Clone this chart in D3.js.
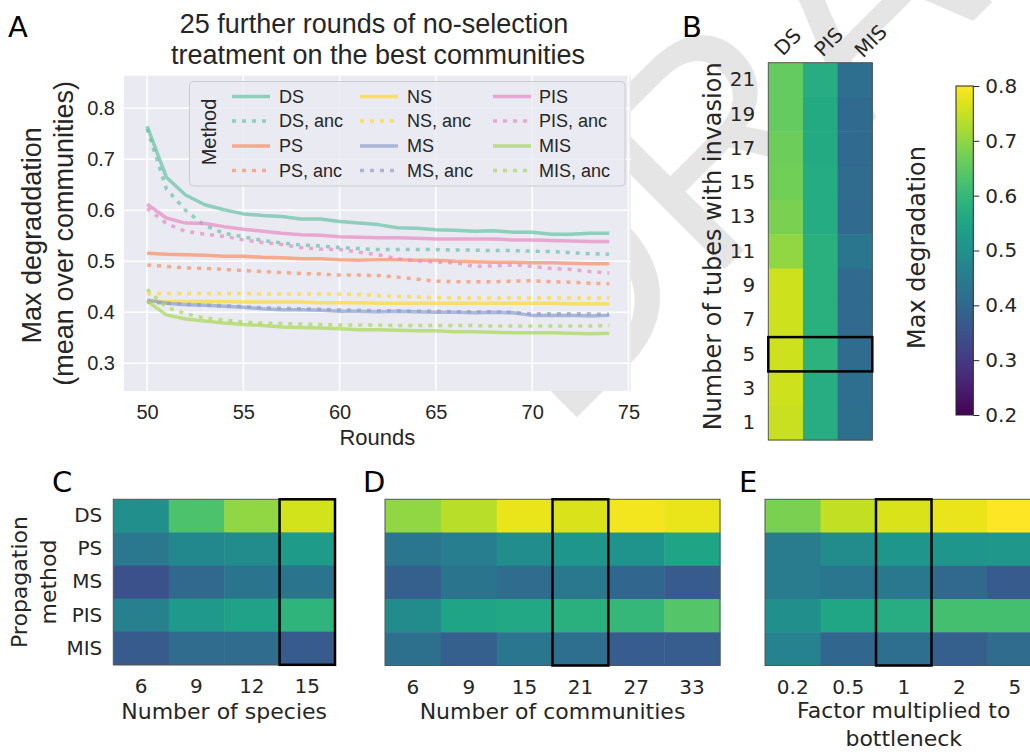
<!DOCTYPE html>
<html>
<head>
<meta charset="utf-8">
<script src="https://cdn.jsdelivr.net/npm/d3@7"></script>
<style>
  body { margin: 0; background: #ffffff; }
  svg { display: block; }
</style>
</head>
<body>
<div id="chart"></div>
<script>
// Panel A: max degradation over 25 further no-selection rounds
const rounds = d3.range(50, 75);
const ds     = [0.765, 0.665, 0.630, 0.611, 0.601, 0.593, 0.590, 0.588, 0.583, 0.583, 0.578, 0.575, 0.572, 0.566, 0.565, 0.562, 0.561, 0.559, 0.560, 0.557, 0.557, 0.553, 0.553, 0.555, 0.555];
const dsAnc  = [0.760, 0.642, 0.600, 0.570, 0.555, 0.548, 0.541, 0.536, 0.532, 0.530, 0.527, 0.525, 0.523, 0.523, 0.523, 0.523, 0.522, 0.522, 0.521, 0.521, 0.520, 0.519, 0.517, 0.515, 0.514];
const ps     = [0.516, 0.514, 0.513, 0.512, 0.510, 0.510, 0.508, 0.507, 0.505, 0.505, 0.503, 0.502, 0.503, 0.503, 0.502, 0.502, 0.500, 0.499, 0.498, 0.498, 0.497, 0.497, 0.496, 0.495, 0.495];
const psAnc  = [0.493, 0.490, 0.487, 0.486, 0.484, 0.482, 0.480, 0.478, 0.476, 0.475, 0.473, 0.473, 0.472, 0.469, 0.465, 0.461, 0.460, 0.460, 0.460, 0.461, 0.462, 0.460, 0.459, 0.457, 0.456];
const ns     = [0.421, 0.421, 0.421, 0.421, 0.421, 0.420, 0.420, 0.420, 0.420, 0.419, 0.419, 0.419, 0.418, 0.418, 0.418, 0.418, 0.418, 0.418, 0.418, 0.418, 0.418, 0.418, 0.417, 0.417, 0.417];
const nsAnc  = [0.436, 0.437, 0.437, 0.437, 0.437, 0.437, 0.436, 0.436, 0.436, 0.436, 0.436, 0.435, 0.433, 0.431, 0.430, 0.429, 0.428, 0.428, 0.428, 0.428, 0.428, 0.428, 0.428, 0.428, 0.428];
const ms     = [0.424, 0.418, 0.415, 0.414, 0.412, 0.410, 0.407, 0.405, 0.405, 0.404, 0.402, 0.402, 0.401, 0.402, 0.401, 0.400, 0.400, 0.399, 0.400, 0.399, 0.394, 0.394, 0.394, 0.393, 0.394];
const msAnc  = [0.420, 0.418, 0.416, 0.414, 0.413, 0.411, 0.409, 0.408, 0.407, 0.406, 0.405, 0.404, 0.403, 0.403, 0.402, 0.402, 0.401, 0.401, 0.401, 0.400, 0.397, 0.397, 0.397, 0.397, 0.396];
const pis    = [0.612, 0.585, 0.575, 0.574, 0.568, 0.563, 0.559, 0.555, 0.552, 0.551, 0.548, 0.547, 0.546, 0.546, 0.545, 0.544, 0.544, 0.544, 0.544, 0.542, 0.542, 0.541, 0.540, 0.539, 0.539];
const pisAnc = [0.604, 0.574, 0.559, 0.553, 0.549, 0.542, 0.537, 0.533, 0.527, 0.524, 0.523, 0.518, 0.513, 0.505, 0.501, 0.499, 0.497, 0.490, 0.491, 0.493, 0.490, 0.486, 0.484, 0.480, 0.477];
const mis    = [0.422, 0.395, 0.387, 0.383, 0.379, 0.376, 0.374, 0.371, 0.370, 0.369, 0.368, 0.366, 0.366, 0.365, 0.364, 0.364, 0.362, 0.362, 0.361, 0.360, 0.360, 0.360, 0.359, 0.358, 0.359];
const misAnc = [0.445, 0.410, 0.397, 0.389, 0.385, 0.381, 0.379, 0.378, 0.377, 0.376, 0.375, 0.375, 0.375, 0.374, 0.374, 0.374, 0.374, 0.374, 0.373, 0.373, 0.373, 0.373, 0.373, 0.373, 0.374];

// Panel B: number of tubes with invasion (top row first)
const tubes = [21, 19, 17, 15, 13, 11, 9, 7, 5, 3, 1];
const bMethods = ["DS", "PIS", "MIS"];
const bDS  = [0.655, 0.655, 0.665, 0.670, 0.680, 0.700, 0.755, 0.755, 0.755, 0.755, 0.750];
const bPIS = [0.575, 0.565, 0.565, 0.570, 0.570, 0.580, 0.580, 0.580, 0.585, 0.575, 0.575];
const bMIS = [0.415, 0.405, 0.405, 0.410, 0.405, 0.435, 0.405, 0.405, 0.410, 0.415, 0.420];

// Panels C-E: propagation method rows
const methods = ["DS", "PS", "MS", "PIS", "MIS"];

const species = ["6", "9", "12", "15"];
const cDS  = [0.500, 0.630, 0.700, 0.760];
const cPS  = [0.440, 0.480, 0.490, 0.530];
const cMS  = [0.350, 0.400, 0.430, 0.430];
const cPIS = [0.460, 0.525, 0.545, 0.590];
const cMIS = [0.370, 0.410, 0.410, 0.370];

const communities = ["6", "9", "15", "21", "27", "33"];
const dDS  = [0.700, 0.735, 0.780, 0.765, 0.790, 0.780];
const dPS  = [0.435, 0.455, 0.495, 0.515, 0.510, 0.550];
const dMS  = [0.380, 0.430, 0.410, 0.440, 0.395, 0.370];
const dPIS = [0.490, 0.550, 0.560, 0.580, 0.600, 0.640];
const dMIS = [0.420, 0.380, 0.435, 0.415, 0.375, 0.375];

const factors = ["0.2", "0.5", "1", "2", "5"];
const eDS  = [0.680, 0.745, 0.765, 0.780, 0.800];
const ePS  = [0.450, 0.490, 0.515, 0.515, 0.520];
const eMS  = [0.450, 0.435, 0.440, 0.400, 0.370];
const ePIS = [0.500, 0.555, 0.575, 0.620, 0.620];
const eMIS = [0.465, 0.395, 0.415, 0.380, 0.410];

const colorTicks = [0.2, 0.3, 0.4, 0.5, 0.6, 0.7, 0.8];

const W = 1030, H = 752;
const fontA = "'Liberation Sans', Arial, sans-serif";
const fontB = "'DejaVu Sans', sans-serif";
const ink = "#262626";

const svg = d3.select("#chart").append("svg")
  .attr("width", W)
  .attr("height", H)
  .attr("viewBox", [0, 0, W, H]);

svg.append("rect").attr("width", W).attr("height", H).attr("fill", "#ffffff");

// draft watermark sits behind the figure
svg.append("text")
  .text("DRAFT")
  .attr("transform", "translate(560,434) rotate(-45)")
  .attr("font-family", fontA)
  .attr("font-size", 290)
  .attr("fill", "#e5e5e5");

const color = d3.scaleSequential(d3.interpolateViridis).domain([0.2, 0.8]);

// ---------- Panel A ----------
const A = { left: 124, right: 630.7, top: 75.7, bottom: 391 };
const xA = d3.scaleLinear().domain([48.8, 75.12]).range([A.left, A.right]);
const yA = d3.scaleLinear().domain([0.2457, 0.864]).range([A.bottom, A.top]);

const gA = svg.append("g").attr("font-family", fontA);

gA.append("rect")
  .attr("x", A.left).attr("y", A.top)
  .attr("width", A.right - A.left).attr("height", A.bottom - A.top)
  .attr("fill", "#eaeaf2");

const xTicksA = [50, 55, 60, 65, 70, 75];
const yTicksA = [0.3, 0.4, 0.5, 0.6, 0.7, 0.8];

gA.append("g").selectAll("line")
  .data(xTicksA)
  .join("line")
  .attr("x1", d => xA(d)).attr("x2", d => xA(d))
  .attr("y1", A.top).attr("y2", A.bottom)
  .attr("stroke", "#ffffff").attr("stroke-width", 1.5);

gA.append("g").selectAll("line")
  .data(yTicksA)
  .join("line")
  .attr("x1", A.left).attr("x2", A.right)
  .attr("y1", d => yA(d)).attr("y2", d => yA(d))
  .attr("stroke", "#ffffff").attr("stroke-width", 1.5);

gA.append("g")
  .attr("transform", `translate(0,${A.bottom})`)
  .call(d3.axisBottom(xA).tickValues(xTicksA).tickSize(0).tickPadding(14))
  .call(g => g.select(".domain").remove())
  .attr("font-family", fontA)
  .selectAll("text").attr("font-size", 20).attr("fill", ink);

gA.append("g")
  .attr("transform", `translate(${A.left},0)`)
  .call(d3.axisLeft(yA).tickValues(yTicksA).tickFormat(d3.format(".1f")).tickSize(0).tickPadding(9))
  .call(g => g.select(".domain").remove())
  .attr("font-family", fontA)
  .selectAll("text").attr("font-size", 20).attr("fill", ink);

const seriesA = [
  { name: "DS",       values: ds,     color: "#66c2a5", dotted: false },
  { name: "DS, anc",  values: dsAnc,  color: "#66c2a5", dotted: true },
  { name: "PS",       values: ps,     color: "#fc8d62", dotted: false },
  { name: "PS, anc",  values: psAnc,  color: "#fc8d62", dotted: true },
  { name: "NS",       values: ns,     color: "#ffd92f", dotted: false },
  { name: "NS, anc",  values: nsAnc,  color: "#ffd92f", dotted: true },
  { name: "MS",       values: ms,     color: "#8da0cb", dotted: false },
  { name: "MS, anc",  values: msAnc,  color: "#8da0cb", dotted: true },
  { name: "PIS",      values: pis,    color: "#e78ac3", dotted: false },
  { name: "PIS, anc", values: pisAnc, color: "#e78ac3", dotted: true },
  { name: "MIS",      values: mis,    color: "#a6d854", dotted: false },
  { name: "MIS, anc", values: misAnc, color: "#a6d854", dotted: true }
];

const lineA = d3.line()
  .x((d, i) => xA(rounds[i]))
  .y(d => yA(d));

gA.append("g").selectAll("path")
  .data(seriesA)
  .join("path")
  .attr("d", d => lineA(d.values))
  .attr("fill", "none")
  .attr("stroke", d => d.color)
  .attr("stroke-opacity", 0.7)
  .attr("stroke-width", 3.5)
  .attr("stroke-dasharray", d => d.dotted ? "4,6" : null)
  .attr("stroke-linejoin", "round");

// legend, filled column by column
const legend = gA.append("g");
legend.append("rect")
  .attr("x", 189.5).attr("y", 81.5)
  .attr("width", 435.5).attr("height", 104.5)
  .attr("rx", 4)
  .attr("fill", "#eaeaf2").attr("fill-opacity", 0.8)
  .attr("stroke", "#cccccc").attr("stroke-width", 1);

legend.append("text")
  .text("Method")
  .attr("transform", "translate(216,132) rotate(-90)")
  .attr("text-anchor", "middle")
  .attr("font-size", 20)
  .attr("fill", ink);

const handleX = [232, 360, 493];
const labelX = [279, 407, 539];
const rowY = [96.5, 121, 146, 170.5];

const item = legend.selectAll("g.item")
  .data(seriesA)
  .join("g")
  .attr("class", "item")
  .attr("transform", (d, i) => `translate(0,${rowY[i % 4]})`);

item.append("line")
  .attr("x1", (d, i) => handleX[Math.floor(i / 4)])
  .attr("x2", (d, i) => handleX[Math.floor(i / 4)] + 38)
  .attr("stroke", d => d.color)
  .attr("stroke-opacity", 0.7)
  .attr("stroke-width", 3.5)
  .attr("stroke-dasharray", d => d.dotted ? "4,6" : null);

item.append("text")
  .text(d => d.name)
  .attr("x", (d, i) => labelX[Math.floor(i / 4)])
  .attr("dy", "0.35em")
  .attr("font-size", 18)
  .attr("fill", ink);

gA.append("text")
  .attr("x", 374)
  .attr("y", 33)
  .attr("text-anchor", "middle")
  .attr("font-size", 27)
  .attr("fill", ink)
  .text("25 further rounds of no-selection");

gA.append("text")
  .attr("x", 378)
  .attr("y", 64)
  .attr("text-anchor", "middle")
  .attr("font-size", 27)
  .attr("fill", ink)
  .text("treatment on the best communities");

gA.append("text")
  .attr("x", (A.left + A.right) / 2)
  .attr("y", 445)
  .attr("text-anchor", "middle")
  .attr("font-size", 22)
  .attr("fill", ink)
  .text("Rounds");

gA.append("text")
  .attr("transform", `translate(41,${(A.top + A.bottom) / 2 + 2}) rotate(-90)`)
  .attr("text-anchor", "middle")
  .attr("font-size", 27)
  .attr("fill", ink)
  .text("Max degraddation");

gA.append("text")
  .attr("transform", `translate(73,${(A.top + A.bottom) / 2}) rotate(-90)`)
  .attr("text-anchor", "middle")
  .attr("font-size", 27)
  .attr("fill", ink)
  .text("(mean over communities)");

// ---------- heatmap helper ----------
function heatmap(g, box, cols, rows, matrix, highlight) {
  const x = d3.scaleBand().domain(cols).range([box.left, box.right]);
  const y = d3.scaleBand().domain(rows).range([box.top, box.bottom]);

  const cells = [];
  rows.forEach((r, i) => cols.forEach((c, j) => cells.push({ r, c, v: matrix[i][j] })));

  g.append("g").selectAll("rect")
    .data(cells)
    .join("rect")
    .attr("x", d => x(d.c))
    .attr("y", d => y(d.r))
    .attr("width", x.bandwidth() + 0.5)
    .attr("height", y.bandwidth() + 0.5)
    .attr("fill", d => color(d.v));

  g.append("rect")
    .attr("x", box.left).attr("y", box.top)
    .attr("width", box.right - box.left).attr("height", box.bottom - box.top)
    .attr("fill", "none")
    .attr("stroke", "#555555").attr("stroke-width", 1);

  if (highlight) {
    const hx = highlight.col != null ? x(highlight.col) : box.left;
    const hw = highlight.col != null ? x.bandwidth() : box.right - box.left;
    const hy = highlight.row != null ? y(highlight.row) : box.top;
    const hh = highlight.row != null ? y.bandwidth() : box.bottom - box.top;
    g.append("rect")
      .attr("x", hx).attr("y", hy)
      .attr("width", hw).attr("height", hh)
      .attr("fill", "none")
      .attr("stroke", "#000000").attr("stroke-width", 2.5);
  }
  return { x, y };
}

function styleAxis(sel) {
  sel.call(g => g.select(".domain").remove())
    .attr("font-family", fontB)
    .selectAll("text").attr("font-size", 20).attr("fill", ink);
}

const gB = svg.append("g").attr("font-family", fontB);

// ---------- Panel B ----------
const B = { left: 768.3, right: 872.3, top: 62.7, bottom: 440 };
const bMatrix = tubes.map((t, i) => [bDS[i], bPIS[i], bMIS[i]]);
const sB = heatmap(gB, B, bMethods, tubes, bMatrix, { row: 5 });

gB.append("g")
  .attr("transform", `translate(${B.left},0)`)
  .call(d3.axisLeft(sB.y).tickSize(0).tickPadding(13))
  .call(styleAxis);

// rotated column labels drift right a little with each column
gB.append("g").selectAll("text")
  .data(bMethods)
  .join("text")
  .attr("transform", (d, i) => `translate(${sB.x(d) + sB.x.bandwidth() / 2 - 3 + 5.5 * i},${B.top - 6 + i}) rotate(-45)`)
  .attr("font-size", 20)
  .attr("fill", ink)
  .text(d => d);

gB.append("text")
  .attr("transform", `translate(721,${(B.top + B.bottom) / 2 - 5}) rotate(-90)`)
  .attr("text-anchor", "middle")
  .attr("font-size", 24)
  .attr("fill", ink)
  .text("Number of tubes with invasion");

// colorbar
const CB = { left: 956, right: 973.3, top: 86, bottom: 415 };
const yCB = d3.scaleLinear().domain([0.2, 0.8]).range([CB.bottom, CB.top]);
const grad = svg.append("defs").append("linearGradient")
  .attr("id", "viridis-bar")
  .attr("x1", 0).attr("y1", 1).attr("x2", 0).attr("y2", 0);
grad.selectAll("stop")
  .data(d3.range(0, 1.0001, 0.05))
  .join("stop")
  .attr("offset", d => d)
  .attr("stop-color", d => d3.interpolateViridis(d));

gB.append("rect")
  .attr("x", CB.left).attr("y", CB.top)
  .attr("width", CB.right - CB.left).attr("height", CB.bottom - CB.top)
  .attr("fill", "url(#viridis-bar)")
  .attr("stroke", "#262626").attr("stroke-width", 1);

gB.append("g")
  .attr("transform", `translate(${CB.right},0)`)
  .call(d3.axisRight(yCB).tickValues(colorTicks).tickFormat(d3.format(".1f")).tickSize(6).tickPadding(6))
  .call(styleAxis)
  .call(g => g.selectAll("line").attr("stroke", ink));

gB.append("text")
  .attr("transform", `translate(925,${(CB.top + CB.bottom) / 2 - 3}) rotate(-90)`)
  .attr("text-anchor", "middle")
  .attr("font-size", 24)
  .attr("fill", ink)
  .text("Max degradation");

// ---------- Panel C ----------
const C = { left: 113.3, right: 335, top: 499.3, bottom: 664.8 };
const sC = heatmap(gB, C, species, methods, [cDS, cPS, cMS, cPIS, cMIS], { col: "15" });

gB.append("g")
  .attr("transform", `translate(${C.left},0)`)
  .call(d3.axisLeft(sC.y).tickSize(0).tickPadding(11))
  .call(styleAxis);

gB.append("g")
  .attr("transform", `translate(0,${C.bottom})`)
  .call(d3.axisBottom(sC.x).tickSize(0).tickPadding(14))
  .call(styleAxis);

gB.append("text")
  .attr("x", (C.left + C.right) / 2).attr("y", 719)
  .attr("text-anchor", "middle")
  .attr("font-size", 22).attr("fill", ink)
  .text("Number of species");

gB.append("text")
  .attr("transform", `translate(27,${(C.top + C.bottom) / 2}) rotate(-90)`)
  .attr("text-anchor", "middle")
  .attr("font-size", 22).attr("fill", ink)
  .text("Propagation");

gB.append("text")
  .attr("transform", `translate(56,${(C.top + C.bottom) / 2}) rotate(-90)`)
  .attr("text-anchor", "middle")
  .attr("font-size", 22).attr("fill", ink)
  .text("method");

// ---------- Panel D ----------
const D = { left: 385, right: 720, top: 499.3, bottom: 665.5 };
const sD = heatmap(gB, D, communities, methods, [dDS, dPS, dMS, dPIS, dMIS], { col: "21" });

gB.append("g")
  .attr("transform", `translate(0,${D.bottom})`)
  .call(d3.axisBottom(sD.x).tickSize(0).tickPadding(14))
  .call(styleAxis);

gB.append("text")
  .attr("x", (D.left + D.right) / 2).attr("y", 719)
  .attr("text-anchor", "middle")
  .attr("font-size", 22).attr("fill", ink)
  .text("Number of communities");

// ---------- Panel E ----------
const E = { left: 765, right: 1042.5, top: 499.3, bottom: 665.5 };
const sE = heatmap(gB, E, factors, methods, [eDS, ePS, eMS, ePIS, eMIS], { col: "1" });

gB.append("g")
  .attr("transform", `translate(0,${E.bottom})`)
  .call(d3.axisBottom(sE.x).tickSize(0).tickPadding(14))
  .call(styleAxis);

gB.append("text")
  .attr("x", (E.left + E.right) / 2).attr("y", 718)
  .attr("text-anchor", "middle")
  .attr("font-size", 22).attr("fill", ink)
  .text("Factor multiplied to");

gB.append("text")
  .attr("x", (E.left + E.right) / 2).attr("y", 746)
  .attr("text-anchor", "middle")
  .attr("font-size", 22).attr("fill", ink)
  .text("bottleneck");

// ---------- panel letters ----------
const letters = [
  { t: "A", x: 8, y: 37 },
  { t: "B", x: 682, y: 37 },
  { t: "C", x: 52, y: 492 },
  { t: "D", x: 363, y: 492 },
  { t: "E", x: 739, y: 492 }
];
svg.append("g").selectAll("text")
  .data(letters)
  .join("text")
  .attr("x", d => d.x).attr("y", d => d.y)
  .attr("font-family", fontB)
  .attr("font-size", 29)
  .attr("fill", "#000000")
  .text(d => d.t);
</script>
</body>
</html>
